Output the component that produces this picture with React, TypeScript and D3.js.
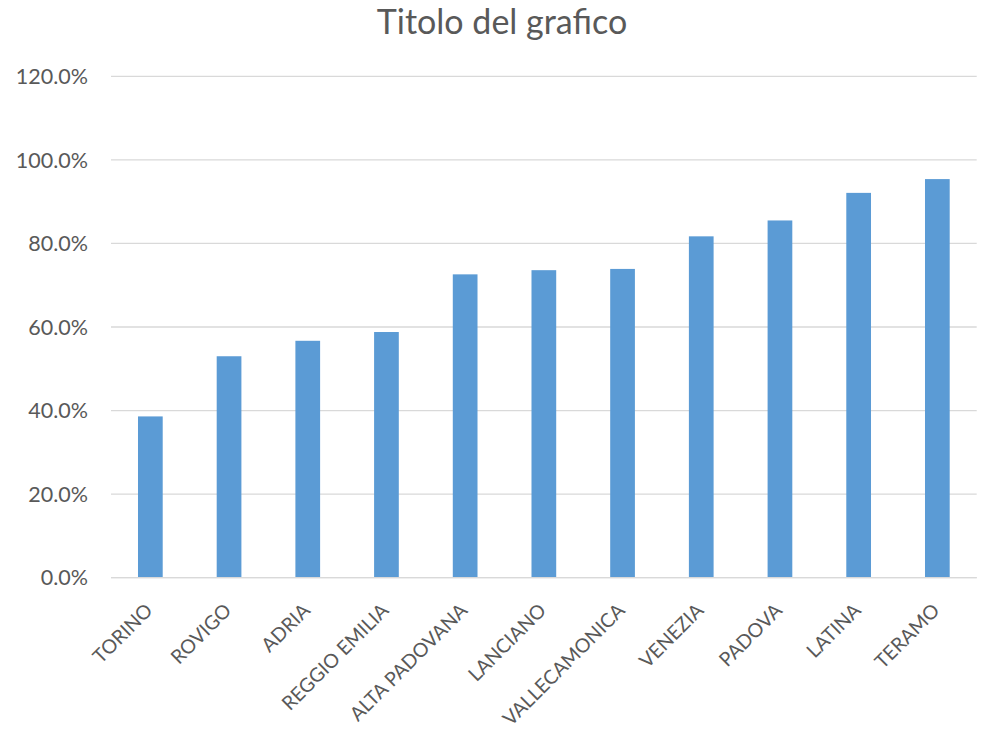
import React from "react";
import * as d3 from "d3";

const categories = ["TORINO", "ROVIGO", "ADRIA", "REGGIO EMILIA", "ALTA PADOVANA", "LANCIANO", "VALLECAMONICA", "VENEZIA", "PADOVA", "LATINA", "TERAMO"];
const values = [0.386, 0.530, 0.567, 0.588, 0.726, 0.736, 0.739, 0.817, 0.855, 0.921, 0.954];
const yTicks = [0, 0.2, 0.4, 0.6, 0.8, 1.0, 1.2];
const title = "Titolo del grafico";

const W = 983, H = 729;
const left = 111, right = 976.7, top = 76.3, bottom = 577.7;
const FONT = "Lato, 'Open Sans', sans-serif";

export default function App() {
  const x = d3.scaleBand<string>().domain(categories).range([left, right]).paddingInner(0.686).paddingOuter(0.343);
  const y = d3.scaleLinear().domain([0, 1.2]).range([bottom, top]);
  const fmt = d3.format(".1%");
  return (
    <svg width={W} height={H} style={{ position: "absolute", left: 0, top: 0, background: "#fff" }} fontFamily={FONT}>
      <rect x={0} y={0} width={W} height={H} fill="#fff" />
      <text x={502} y={34} textAnchor="middle" fontSize={34} fill="#595959">{title}</text>
      {yTicks.map((t) => (
        <g key={t}>
          <line x1={left} x2={right} y1={y(t)} y2={y(t)} stroke="#D9D9D9" strokeWidth={1.3} />
          <text x={88} y={y(t) + 7.7} textAnchor="end" fontSize={21.5} fill="#595959">{fmt(t)}</text>
        </g>
      ))}
      {categories.map((c, i) => (
        <rect key={c} x={x(c)} y={y(values[i])} width={x.bandwidth()} height={y(0) - y(values[i])} fill="#5B9BD5" />
      ))}
      <line x1={left} x2={right} y1={y(0)} y2={y(0)} stroke="#D9D9D9" strokeWidth={1.3} />
      {categories.map((c) => {
        const cx = (x(c) as number) + x.bandwidth() / 2 + 3.5;
        const cy = y(0) + 34;
        return (
          <text key={c} transform={`translate(${cx},${cy}) rotate(-45)`} textAnchor="end" fontSize={19.5} fill="#595959">{c}</text>
        );
      })}
    </svg>
  );
}
